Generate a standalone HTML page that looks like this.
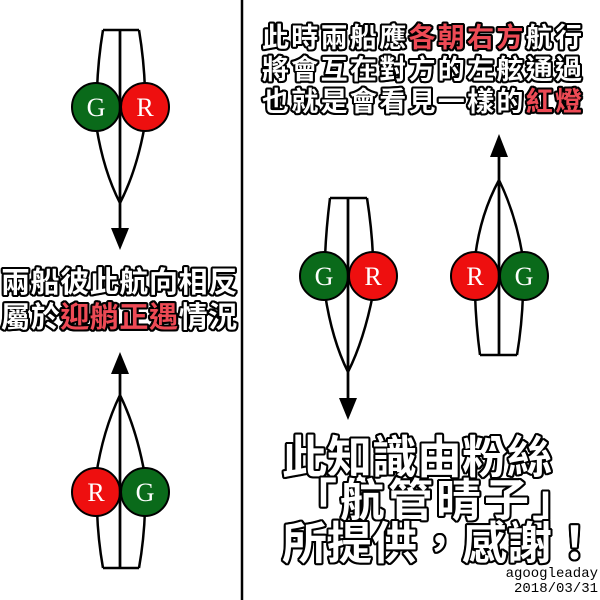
<!DOCTYPE html>
<html><head><meta charset="utf-8"><style>
body{margin:0;width:600px;height:600px;background:#fff;position:relative;overflow:hidden}
.t{position:absolute;font-family:"Liberation Sans","Noto Sans CJK TC",sans-serif;font-weight:bold;color:#fff;white-space:nowrap;
text-shadow:2px 0 #000,-2px 0 #000,0 2px #000,0 -2px #000,1.5px 1.5px #000,-1.5px 1.5px #000,1.5px -1.5px #000,-1.5px -1.5px #000,2px 1px #000,-2px 1px #000,2px -1px #000,-2px -1px #000,1px 2px #000,-1px 2px #000,1px -2px #000,-1px -2px #000}
.r{color:#ee4a55}
.w{position:absolute;font-family:"Liberation Mono",monospace;font-size:14px;line-height:15px;text-align:right;right:2px}
</style></head><body>
<svg width="600" height="600" style="position:absolute;left:0;top:0" font-family="Liberation Serif,serif" font-size="26">
<line x1="242" y1="0" x2="242" y2="600" stroke="#000" stroke-width="2.5"/>
<g stroke="#000" stroke-width="2.5" fill="none">
<path d="M103 30 L139 30 M103 30 Q98 60 97 90 M139 30 Q144 60 145 90 M96 124 Q103 170 120 203 M145 124 Q137 170 120 203 M120 30 L120 230"/>
<path d="M103 568 L139 568 M103 568 Q98 540 97 510 M139 568 Q144 540 145 510 M96 476 Q103 430 120 395 M145 476 Q137 430 120 395 M120 568 L120 372"/>
<path d="M330 198 L367 198 M330 198 Q326 230 325 258 M367 198 Q372 230 373 258 M325 294 Q332 340 348 372 M373 294 Q364 340 348 372 M348 198 L348 400"/>
<path d="M480 355 L517 355 M480 355 Q476 325 475 294 M517 355 Q522 325 523 294 M475 258 Q480 215 499 180 M523 258 Q516 215 499 180 M499 355 L499 155"/>
</g>
<g fill="#000">
<polygon points="111,228 129,228 120,250"/>
<polygon points="111,374 129,374 120,352"/>
<polygon points="339,398 357,398 348,420"/>
<polygon points="490,157 508,157 499,134"/>
</g>
<g stroke="#000" stroke-width="2">
<circle cx="96" cy="107" r="24" fill="#0a6a1a"/><circle cx="145" cy="107" r="24" fill="#ee0f0f"/>
<circle cx="96" cy="492" r="24" fill="#ee0f0f"/><circle cx="145" cy="492" r="24" fill="#0a6a1a"/>
<circle cx="324" cy="276" r="24" fill="#0a6a1a"/><circle cx="373" cy="276" r="24" fill="#ee0f0f"/>
<circle cx="475" cy="276" r="24" fill="#ee0f0f"/><circle cx="524" cy="276" r="24" fill="#0a6a1a"/>
</g>
<line x1="120" y1="30" x2="120" y2="230" stroke="#000" stroke-width="2.5"/>
<line x1="120" y1="568" x2="120" y2="372" stroke="#000" stroke-width="2.5"/>
<line x1="348" y1="198" x2="348" y2="400" stroke="#000" stroke-width="2.5"/>
<line x1="499" y1="355" x2="499" y2="155" stroke="#000" stroke-width="2.5"/>
<g fill="#fff" text-anchor="middle">
<text x="96" y="116">G</text><text x="145" y="116">R</text>
<text x="96" y="501">R</text><text x="145" y="501">G</text>
<text x="324" y="285">G</text><text x="373" y="285">R</text>
<text x="475" y="285">R</text><text x="524" y="285">G</text>
</g>
</svg>
<div class="t" style="left:262px;top:22px;font-size:27px;line-height:32px;letter-spacing:2.3px">此時兩船應<span class="r">各朝右方</span>航行<br>將會互在對方的左舷通過<br>也就是會看見一樣的<span class="r">紅燈</span></div>
<div class="t" style="left:1px;top:266px;font-size:29px;line-height:35px;letter-spacing:0.6px">兩船彼此航向相反<br>屬於<span class="r">迎艄正遇</span>情況</div>
<div class="t" style="left:282px;top:436px;font-size:45px;line-height:43px">此知識由粉絲<br><span style="letter-spacing:3px;margin-left:10px">「航管晴子」</span><br>所提供，感謝！</div>
<div class="w" style="top:567px">agoogleaday<br>2018/03/31</div>
</body></html>
